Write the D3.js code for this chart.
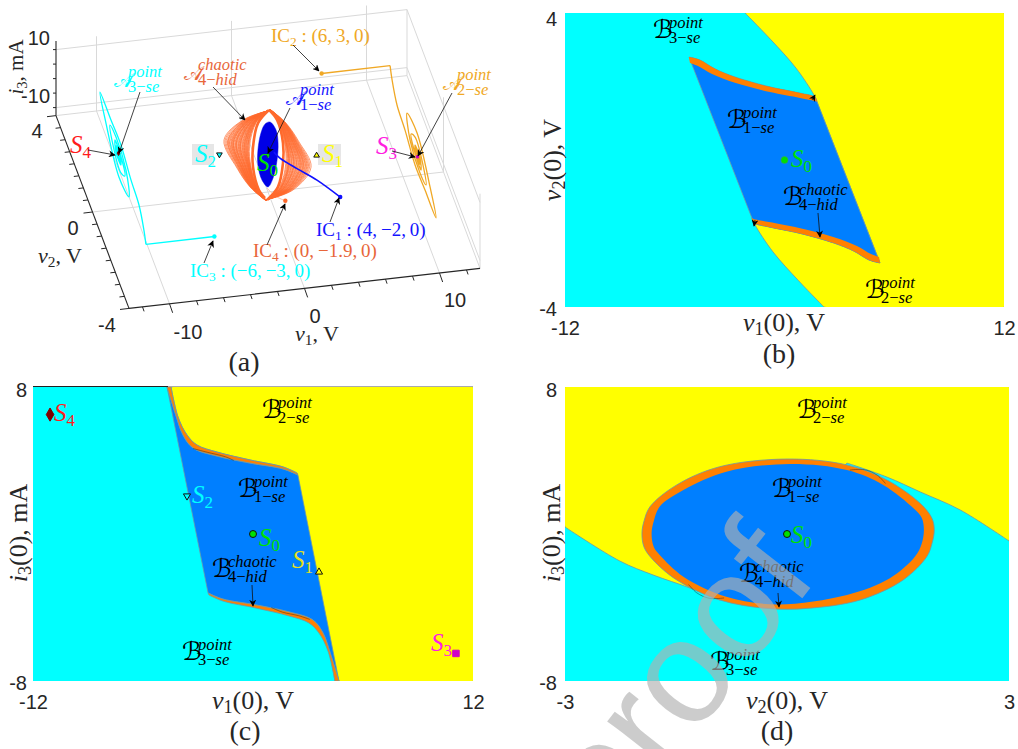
<!DOCTYPE html>
<html><head><meta charset="utf-8">
<script src="https://cdnjs.cloudflare.com/ajax/libs/d3/7.8.5/d3.min.js"></script>
<style>html,body{margin:0;padding:0;background:#fff}svg{display:block}</style>
</head><body><svg id="chart" width="1018" height="749"></svg>
<script>
/* ---------- panel (a): state-space values as [v1, v2, i3] ---------- */
const ticksV1=[-12,-10,-8,-6,-4,-2,0,2,4,6,8,10,12];
const ticksV2=[-4,-3.5,-3,-2.5,-2,-1.5,-1,-.5,0,.5,1,1.5,2,2.5,3,3.5,4];
const ticksI3=[-10,-5,0,5,10];
const equilibria={S0:[0,0,0],S1:[3.6,0,-2.07],S2:[-3.6,0,2.07],S3:[11.07,0,-6.5],S4:[-11.07,0,6.5]};
const trajIC1=[[4,-2,0],[3,-.93,-2.5],[1.7,-.66,-.1],[.6,-.42,2.1],[.3,-.2,2.5]];
const trajIC4=[[0,-1.9,0],[0,-.77,-7.7],[0,.11,-12.3]];
const trajIC2=[[6,3,0],[11.07,3,0],[11.07,2.78,-3.1],[11.07,2.24,-7.25],[11.07,1.36,-8.6],[11.07,.26,-11.5],[11.07,-.83,-11.05],[11.07,-2.04,-10.64],[11.07,-1.38,-5.43],[11.07,.04,1.36],[11.07,1.14,-.9],[11.07,.81,-7.43],[11.07,-.28,-9.74],[11.07,-.94,-8.4],[11.07,-.61,-4.26],[11.07,.26,-1.85],[11.07,.7,-4.47],[11.07,.37,-7.2],[11.07,-.39,-7.81],[11.07,-.28,-4.57],[11.07,.26,-4.6],[11.07,.15,-7.12],[11.07,-.28,-6.3],[11.07,-.07,-4.26],[11.07,.2,-5],[11.07,-.1,-7.8],[11.07,-.3,-6.5],[11.07,.1,-5],[11.07,.15,-7],[11.07,-.15,-7.2],[11.07,-.1,-5.5],[11.07,.1,-6],[11.07,0,-6.5]];
const trajIC3=[[-6,-3,0],[-11.07,-3,0],[-11.07,-2.78,3.1],[-11.07,-2.24,7.25],[-11.07,-1.36,8.6],[-11.07,-.26,11.5],[-11.07,.83,11.05],[-11.07,2.04,10.64],[-11.07,1.38,5.43],[-11.07,-.04,-1.36],[-11.07,-1.14,.9],[-11.07,-.81,7.43],[-11.07,.28,9.74],[-11.07,.94,8.4],[-11.07,.61,4.26],[-11.07,-.26,1.85],[-11.07,-.7,4.47],[-11.07,-.37,7.2],[-11.07,.39,7.81],[-11.07,.28,4.57],[-11.07,-.26,4.6],[-11.07,-.15,7.12],[-11.07,.28,6.3],[-11.07,.07,4.26],[-11.07,-.2,5],[-11.07,.1,7.8],[-11.07,.3,6.5],[-11.07,-.1,5],[-11.07,-.15,7],[-11.07,.15,7.2],[-11.07,.1,5.5],[-11.07,-.1,6],[-11.07,0,6.5]];
/* point attractor outline, [v2, i3] at v1 = 0 */
const attractorPoint=[[-.22,13.2],[-.88,15.9],[-1.1,13.3],[-.99,6.5],[-.55,-3.4],[0,-11],[.66,-14.1],[1.1,-12.6],[1.1,-7.4],[.77,1.2],[.33,7.9]];
/* chaotic attractor envelopes, [v1, i3] at v2 = 0 */
const chaoticLeftOuter=[[.22,15.4],[-1.85,13.05],[-3.26,6.9],[-2.3,-3.26],[-1.33,-10.3],[-.22,-15.4]];
const chaoticLeftInner=[[.07,15.5],[-.74,11.4],[-1.11,3.35],[-1.11,-3.55],[-.67,-11.7],[-.22,-14.7]];
const chaoticRightOuter=[[.22,15.4],[1.33,10.3],[2.3,3.26],[3.19,-5.83],[1.85,-13.05],[-.22,-15.4]];
const chaoticRightInner=[[.07,15.5],[.67,11.7],[1.11,3.55],[1.11,-3.35],[.74,-11.4],[-.07,-15.5]];
const chaoticStrandsLeft=[.12,.15,.17,.18,.2,.22,.24,.25,.27,.29,.3,.32,.34,.36,.38,.41,.43,.44,.46,.48,.5,.52,.55,.57,.58,.6,.62,.65,.67,.68,.7,.72,.74,.76,.79,.81,.84,.86,.88,.92,.96,1];
const chaoticStrandsRight=[.1,.13,.16,.18,.2,.21,.23,.25,.28,.3,.32,.35,.37,.39,.4,.43,.46,.48,.5,.53,.55,.58,.6,.62,.64,.66,.69,.71,.73,.75,.78,.8,.83,.85,.88,.91,.95,1];

/* ---------- panel (b): [v1(0), v2(0)] ---------- */
const bYellowUpper=[[-2.16,4],[-.74,3.27],[.63,2.5],[1.61,1.77],[1.78,1.58]];
const bYellowLower=[[-1.78,-1.58],[-1.61,-1.77],[-.63,-2.5],[.74,-3.27],[2.16,-4]];
const bBandUpperOuter=[[-5.22,2.8],[-4.62,2.72],[-3.8,2.48],[-2.71,2.26],[-.8,1.99],[.85,1.82],[1.67,1.71],[1.78,1.58]];
const bBandUpperInner=[[1.67,1.61],[.85,1.69],[-.8,1.85],[-2.71,2.1],[-3.96,2.34],[-4.73,2.56],[-5.17,2.64]];
const bBandLowerOuter=[[5.22,-2.8],[4.62,-2.72],[3.8,-2.48],[2.71,-2.26],[.8,-1.99],[-.85,-1.82],[-1.67,-1.71],[-1.78,-1.58]];
const bBandLowerInner=[[-1.67,-1.61],[-.85,-1.69],[.8,-1.85],[2.71,-2.1],[3.96,-2.34],[4.73,-2.56],[5.17,-2.64]];

/* ---------- panel (c): [v1(0), i3(0)] ---------- */
const cYellowUpper=[[-4.47,8],[-4.09,6.37],[-3.6,5.39],[-3.05,4.84],[-1.96,4.46],[-.16,4.03],[1.64,3.65],[2.4,3.32]];
const cBandUpperEdge=[[-4.69,8],[-4.25,6.59],[-3.82,5.39],[-3.27,4.68],[-1.96,4.24],[-.16,3.86],[1.64,3.54],[2.45,3.21]];
const cYellowLower=[[-2.4,-3.32],[-1.64,-3.65],[.16,-4.03],[1.96,-4.46],[3.05,-4.84],[3.6,-5.39],[4.09,-6.37],[4.47,-8]];
const cBandLowerEdge=[[-2.45,-3.21],[-1.64,-3.54],[.16,-3.86],[1.96,-4.24],[3.27,-4.68],[3.82,-5.39],[4.25,-6.59],[4.69,-8]];
const cFilamentUpper=[[-3.27,4.65],[-2.5,4.45],[-1.5,4.2],[-1.05,4.0]];
const cFilamentLower=[[1.0,-4.0],[1.6,-4.25],[2.5,-4.45],[3.1,-4.65]];

/* ---------- panel (d): [v2(0), i3(0)] ---------- */
const dOuter=[[-1.96,.04],[-1.93,.73],[-1.85,1.49],[-1.49,2.67],[-.91,3.66],[0,4.08],[.81,3.76],[1.35,2.94],[1.8,1.67],[1.96,.85],[1.99,.22],[1.96,-.51],[1.89,-1.23],[1.57,-2.5],[.99,-3.59],[.27,-4.05],[-.27,-4.05],[-.91,-3.59],[-1.49,-2.5],[-1.81,-1.41],[-1.93,-.73]];
const dInner=[[-1.83,.04],[-1.8,.71],[-1.72,1.49],[-1.4,2.39],[-.82,3.39],[.04,3.81],[.81,3.48],[1.3,2.67],[1.71,1.4],[1.82,.89],[1.85,.22],[1.82,-.53],[1.73,-1.23],[1.39,-2.41],[.81,-3.32],[-.14,-3.83],[-.82,-3.41],[-1.4,-2.32],[-1.72,-1.14],[-1.8,-.71]];
const dSepRight=[[3,-.38],[2.34,1.31],[1.8,2.29],[1.35,3.1],[.81,3.86]];
const dSepLeft=[[-.91,-3.59],[-1.31,-2.94],[-1.81,-2.23],[-2.26,-1.47],[-3,.38]];
const dFilamentUpper=[[.85,3.48],[1.05,3.5],[1.22,3.2],[1.33,2.75]];
const dFilamentLower=[[-1.33,-2.75],[-1.22,-3.2],[-1.05,-3.5],[-.85,-3.48]];

const COL={cyan:"#00ffff",yellow:"#ffff00",blue:"#007fff",orange:"#ff8000",edge:"#6d97a8",ink:"#262626",grid:"#d9d9d9",
 strand:"#ff6a2c",ic1:"#1414ff",ic2:"#f0a825",ic4:"#e8663a",s3:"#ff20e0",s4:"#ff1c1c",s0:"#00e000",s1:"#e6e020"};
const SANS="'Liberation Sans',Arial,sans-serif", SERIF="'Liberation Serif','DejaVu Serif',serif";
const SCRIPT="'DejaVu Serif','DejaVu Sans',serif";

const svg=d3.select("#chart");
const defs=svg.append("defs");
defs.append("marker").attr("id","head").attr("viewBox","0 0 10 10").attr("refX",9).attr("refY",5)
  .attr("markerWidth",7).attr("markerHeight",7).attr("markerUnits","userSpaceOnUse").attr("orient","auto")
  .append("path").attr("d","M0,0L10,5L0,10L3,5Z").attr("fill","black");

/* --- text helpers --- */
function mathLabel(g,x,y,base,sup,sub,color,opt={}){
 const size=opt.size||25,ss=opt.ss||16.5,off=opt.off||15;
 g.append("text").attr("x",x-1).attr("y",y).attr("fill",color).attr("font-family",SCRIPT).attr("font-size",size).text(base);
 g.append("text").attr("x",x+off).attr("y",y-10).attr("fill",color).attr("font-family",SERIF).attr("font-style","italic").attr("font-size",ss).text(sup);
 const t=g.append("text").attr("x",x+off).attr("y",y+5).attr("fill",color).attr("font-family",SERIF).attr("font-size",ss);
 t.append("tspan").text(sub[0]);
 t.append("tspan").text("\u2212");
 t.append("tspan").attr("font-style","italic").text(sub[1]);
}
function stateLabel(g,x,y,name,idx,color){
 const t=g.append("text").attr("x",x).attr("y",y).attr("fill",color).attr("font-family",SERIF).attr("font-size",25);
 t.append("tspan").attr("font-style","italic").text(name);
 t.append("tspan").attr("dy",5).attr("font-size",17).text(idx);
}
function icLabel(g,x,y,idx,rest,color){
 const t=g.append("text").attr("x",x).attr("y",y).attr("fill",color).attr("font-family",SERIF).attr("font-size",19);
 t.append("tspan").text("IC");
 t.append("tspan").attr("dy",4).attr("font-size",13.5).text(idx);
 t.append("tspan").attr("dy",-4).text(" : "+rest);
}
function axisTitle(g,x,y,v,idx,rest,rot,size=26){
 const t=g.append("text").attr("text-anchor","middle").attr("font-family",SERIF).attr("font-size",size).attr("fill",COL.ink)
  .attr("transform",`translate(${x},${y})`+(rot?" rotate(-90)":""));
 t.append("tspan").attr("font-style","italic").text(v);
 t.append("tspan").attr("dy",4).attr("font-size",size*.7).text(idx);
 t.append("tspan").attr("dy",-4).text(rest);
}
function tag(g,x,y,s){g.append("text").attr("x",x).attr("y",y).attr("text-anchor","middle").attr("font-family",SERIF).attr("font-size",28).attr("fill",COL.ink).text(s);}
function arrow(g,x1,y1,x2,y2){g.append("line").attr("x1",x1).attr("y1",y1).attr("x2",x2).attr("y2",y2).attr("stroke","#111").attr("stroke-width",.8).attr("marker-end","url(#head)");}

/* --- panel (a) : oblique projection built from linear scales --- */
const v1X=d3.scaleLinear([-13,13],[92.5,443.5]), v1Y=d3.scaleLinear([-13,13],[20,-20]);
const v2X=d3.scaleLinear([-4,4],[36.5,-36.5]), v2Y=d3.scaleLinear([-4,4],[96.4,-96.4]);
const i3Y=d3.scaleLinear([-10,10],[29,-29]);
const ORIGIN_Y=155;
const proj=([a,b,c])=>[v1X(a)+v2X(b),ORIGIN_Y+v1Y(a)+v2Y(b)+i3Y(c)];
const V1MIN=-13,V1MAX=13,V2MIN=-4,V2MAX=4,ZMIN=-12.76,ZMAX=13;

const A=svg.append("g").attr("id","panel-a");
const seg=(p,q,col,w)=>{const[a,b]=[proj(p),proj(q)];A.append("line").attr("x1",a[0]).attr("y1",a[1]).attr("x2",b[0]).attr("y2",b[1]).attr("stroke",col).attr("stroke-width",w);};
const gridW=1;
ticksI3.filter(z=>Math.abs(z)===10).forEach(z=>{
 seg([V1MIN,V2MAX,z],[V1MAX,V2MAX,z],COL.grid,gridW);
 seg([V1MAX,V2MAX,z],[V1MAX,V2MIN,z],COL.grid,gridW);
});
[-10,0,10].forEach(x=>{
 seg([x,V2MAX,ZMIN],[x,V2MAX,ZMAX],COL.grid,gridW);
 seg([x,V2MAX,ZMIN],[x,V2MIN,ZMIN],COL.grid,gridW);
});
seg([V1MIN,0,ZMIN],[V1MAX,0,ZMIN],COL.grid,gridW);
seg([V1MIN,V2MAX,ZMIN],[V1MAX,V2MAX,ZMIN],COL.grid,gridW);
seg([V1MAX,V2MAX,ZMIN],[V1MAX,V2MIN,ZMIN],COL.grid,gridW);
seg([V1MAX,0,ZMIN],[V1MAX,0,ZMAX],COL.grid,gridW);
seg([V1MAX,V2MAX,ZMIN],[V1MAX,V2MAX,10],COL.grid,gridW);
seg([V1MAX,V2MIN,ZMIN],[V1MAX,V2MIN,ZMAX],COL.grid,gridW);
seg([V1MIN,V2MIN,ZMIN],[V1MAX,V2MIN,ZMIN],COL.ink,1.1);
seg([V1MIN,V2MIN,ZMIN],[V1MIN,V2MAX,ZMIN],COL.ink,1.1);
seg([V1MIN,V2MAX,ZMIN],[V1MIN,V2MAX,ZMAX],COL.ink,1.1);
ticksV1.forEach(x=>{const p=proj([x,V2MIN,ZMIN]),L=x%10===0?9:4.5;
 A.append("line").attr("x1",p[0]).attr("y1",p[1]).attr("x2",p[0]+L*.35).attr("y2",p[1]+L).attr("stroke",COL.ink).attr("stroke-width",1);});
ticksV2.forEach(y=>{const p=proj([V1MIN,y,ZMIN]),L=y%4===0?9:5;
 A.append("line").attr("x1",p[0]).attr("y1",p[1]).attr("x2",p[0]-L).attr("y2",p[1]+L*.12).attr("stroke",COL.ink).attr("stroke-width",1);});
ticksI3.forEach(z=>{const p=proj([V1MIN,V2MAX,z]);
 A.append("line").attr("x1",p[0]).attr("y1",p[1]).attr("x2",p[0]-3).attr("y2",p[1]).attr("stroke",COL.ink).attr("stroke-width",1);});
const tickText=(g,x,y,s,anchor="middle")=>g.append("text").attr("x",x).attr("y",y).attr("text-anchor",anchor).attr("dominant-baseline","central").attr("font-family",SANS).attr("font-size",20).attr("fill",COL.ink).text(s);
tickText(A,50,38,"10","end");tickText(A,50,96,"-10","end");
tickText(A,37,131,"4");tickText(A,73,228,"0");tickText(A,107,325,"-4");
tickText(A,188,332,"-10");tickText(A,315,316,"0");tickText(A,455,300,"10");
axisTitle(A,60,263,"v","2",", V",false,22);
axisTitle(A,317,341,"v","1",", V",false,22);
axisTitle(A,23,67,"i","3",", mA",true,21);
tag(A,244,371,"(a)");

const straight=d3.line(d=>proj(d)[0],d=>proj(d)[1]);
const smooth3=d3.line(d=>proj(d)[0],d=>proj(d)[1]).curve(d3.curveCatmullRom.alpha(.5));
const drawTraj=(data,col,w,op=1)=>A.append("path").attr("d",smooth3(data)).attr("fill","none").attr("stroke",col).attr("stroke-width",w).attr("stroke-opacity",op);
const startDot=(p,col)=>{const q=proj(p);A.append("circle").attr("cx",q[0]).attr("cy",q[1]).attr("r",2.2).attr("fill",col);};

A.append("path").attr("d",straight(trajIC2.slice(0,2))).attr("fill","none").attr("stroke",COL.ic2).attr("stroke-width",1.4);
drawTraj(trajIC2.slice(1),COL.ic2,1.3);
A.append("path").attr("d",straight(trajIC3.slice(0,2))).attr("fill","none").attr("stroke",COL.cyan).attr("stroke-width",1.4);
drawTraj(trajIC3.slice(1),COL.cyan,1.3);
startDot(trajIC2[0],COL.ic2);startDot(trajIC3[0],COL.cyan);

drawTraj(trajIC4,"#ffb090",.8);
const chaoticLine=d3.line(d=>proj([d[0],0,d[1]])[0],d=>proj([d[0],0,d[1]])[1]).curve(d3.curveCatmullRom.alpha(.5));
function strands(inner,outer,levels){
 levels.forEach(l=>{
  const pts=inner.map((p,i)=>[p[0]+(outer[i][0]-p[0])*l,p[1]+(outer[i][1]-p[1])*l]);
  A.append("path").attr("d",chaoticLine(pts)).attr("fill","none").attr("stroke",COL.strand).attr("stroke-width",.8).attr("stroke-opacity",.85);
 });
 A.append("path").attr("d",chaoticLine(inner)).attr("fill","none").attr("stroke",COL.strand).attr("stroke-width",2.6);
}
strands(chaoticLeftInner,chaoticLeftOuter,chaoticStrandsLeft);
strands(chaoticRightInner,chaoticRightOuter,chaoticStrandsRight);
startDot(trajIC4[0],COL.strand);

const ptLine=d3.line(d=>proj([0,d[0],d[1]])[0],d=>proj([0,d[0],d[1]])[1]).curve(d3.curveCatmullRomClosed.alpha(.5));
A.append("path").attr("d",ptLine(attractorPoint)).attr("fill","#0000e6").attr("stroke","#0000e6").attr("stroke-width",.5);
drawTraj(trajIC1,"#1010ff",1.6);
startDot(trajIC1[0],"#1010ff");

const sym=(t,s)=>d3.symbol().type(t).size(s)();
const placeSym=(g,p,t,s,fill,stroke,rot=0)=>g.append("path").attr("d",sym(t,s)).attr("transform",`translate(${p[0]},${p[1]}) rotate(${rot})`).attr("fill",fill).attr("stroke",stroke).attr("stroke-width",1);
A.append("rect").attr("x",192).attr("y",144).attr("width",22).attr("height",21).attr("fill","#e6e6e6");
A.append("rect").attr("x",318).attr("y",144).attr("width",23).attr("height",21).attr("fill","#e6e6e6");
placeSym(A,proj(equilibria.S2),d3.symbolTriangle,14,COL.cyan,"#111",180);
placeSym(A,proj(equilibria.S1),d3.symbolTriangle,14,COL.yellow,"#111");
const s0a=proj(equilibria.S0);
A.append("circle").attr("cx",s0a[0]).attr("cy",s0a[1]).attr("r",1.5).attr("fill",COL.s0).attr("stroke","#111").attr("stroke-width",.5);
placeSym(A,proj(equilibria.S3),d3.symbolSquare,5,"#d000c8","#d000c8");
placeSym(A,proj(equilibria.S4),d3.symbolDiamond,6,"#800000","#800000");

stateLabel(A,195,162,"S","2",COL.cyan);
stateLabel(A,322,162,"S","1",COL.yellow);
stateLabel(A,257,171,"S","0",COL.s0);
stateLabel(A,70,153,"S","4",COL.s4);
stateLabel(A,376,154,"S","3",COL.s3);
const scriptA={size:20,off:13};
mathLabel(A,115,87,"\uD835\uDC9C","point",["3","se"],COL.cyan,scriptA);
mathLabel(A,185,80,"\uD835\uDC9C","chaotic",["4","hid"],COL.ic4,scriptA);
mathLabel(A,287,105,"\uD835\uDC9C","point",["1","se"],COL.ic1,scriptA);
mathLabel(A,444,90,"\uD835\uDC9C","point",["2","se"],COL.ic2,scriptA);
icLabel(A,271,42,"2","(6,\u20093,\u20090)",COL.ic2);
icLabel(A,316,236,"1","(4,\u2009\u22122,\u20090)",COL.ic1);
icLabel(A,253,257,"4","(0,\u2009\u22121.9,\u20090)",COL.ic4);
icLabel(A,190,277,"3","(\u22126,\u2009\u22123,\u20090)",COL.cyan);
arrow(A,88,150,115,155);arrow(A,140,92,119,153);arrow(A,213,87,245,120);arrow(A,290,108,268,153);
arrow(A,293,45,319,71);arrow(A,452,93,418,156);arrow(A,392,151,415,157);
arrow(A,330,222,339,198);arrow(A,267,245,285,204);arrow(A,204,263,213,241);

/* --- basin panels --- */
function basinFrame(id,xR,yR,xD,yD){
 const g=svg.append("g").attr("id",id);
 const x=d3.scaleLinear(xD,xR),y=d3.scaleLinear(yD,yR);
 defs.append("clipPath").attr("id","clip-"+id).append("rect").attr("x",xR[0]).attr("y",yR[0]).attr("width",xR[1]-xR[0]).attr("height",yR[1]-yR[0]);
 const plot=g.append("g").attr("clip-path",`url(#clip-${id})`);
 plot.append("rect").attr("x",xR[0]).attr("y",yR[0]).attr("width",xR[1]-xR[0]).attr("height",yR[1]-yR[0]).attr("fill",COL.cyan);
 const curve=d3.line(d=>x(d[0]),d=>y(d[1])).curve(d3.curveCatmullRom.alpha(.5));
 const stright=d3.line(d=>x(d[0]),d=>y(d[1]));
 const poly=(segs,fill,stroke)=>{
  const d=segs.map((s,i)=>{const p=(s.length>2?curve:stright)(s);return i?("L"+p.slice(1)):p;}).join("")+"Z";
  plot.append("path").attr("d",d).attr("fill",fill).attr("stroke",stroke||"none").attr("stroke-width",.8);
 };
 return {g,plot,x,y,poly,curve};
}
function axes(f,xTicks,yTicks,xPad,yPad,bottomY,leftX,yShift){
 const ax=f.g.append("g").attr("transform",`translate(0,${bottomY})`).call(d3.axisBottom(f.x).tickValues(xTicks).tickSize(0).tickPadding(xPad).tickFormat(String));
 const ay=f.g.append("g").attr("transform",`translate(${leftX},0)`).call(d3.axisLeft(f.y).tickValues(yTicks).tickSize(0).tickPadding(yPad).tickFormat(String));
 [ax,ay].forEach(a=>{a.select(".domain").remove();a.selectAll("text").attr("font-family",SANS).attr("font-size",20).attr("fill",COL.ink);});
 ay.selectAll("g.tick").each(function(d){d3.select(this).select("text").attr("transform",`translate(0,${d>0?yShift[0]:yShift[1]})`);});
}
const filament=(f,data)=>f.plot.append("path").attr("d",f.curve(data)).attr("fill","none").attr("stroke","#222").attr("stroke-width",.6).attr("stroke-opacity",.75);
const rev=a=>a.slice().reverse();

/* (b) */
const B=basinFrame("panel-b",[565,1004],[13,307],[-12,12],[4,-4]);
B.poly([bYellowUpper,[[1.78,1.58],[5.22,-2.8]],bBandLowerOuter,bYellowLower,[[2.16,-4],[12,-4],[12,4],[-2.16,4]]],COL.yellow,COL.edge);
B.poly([bBandUpperOuter,[[1.78,1.58],[5.22,-2.8]],bBandLowerOuter,[[-1.78,-1.58],[-5.22,2.8]]],COL.blue,COL.edge);
B.poly([bBandUpperOuter,bBandUpperInner],COL.orange);
B.poly([bBandLowerOuter,bBandLowerInner],COL.orange);
axes(B,[-12,12],[-4,4],14,8,307,565,[6,2]);
const s0b=[B.x(0),B.y(0)];
B.g.append("circle").attr("cx",s0b[0]).attr("cy",s0b[1]).attr("r",3.5).attr("fill",COL.s0).attr("stroke","#3a9a6a").attr("stroke-width",.6);
stateLabel(B.g,791,167,"S","0",COL.s0);
mathLabel(B.g,654,38,"\u212C","point",["3","se"],"#000");
mathLabel(B.g,728,128,"\u212C","point",["1","se"],"#000");
mathLabel(B.g,784,205,"\u212C","chaotic",["4","hid"],"#000");
mathLabel(B.g,866,298,"\u212C","point",["2","se"],"#000");
arrow(B.g,818,213,820,237);arrow(B.g,812,100,815,95);arrow(B.g,755,220,754,226);
axisTitle(B.g,784,331,"v","1","(0), V",false);
axisTitle(B.g,561,160,"v","2","(0), V",true);
tag(B.g,779,363,"(b)");

/* (c) */
const C=basinFrame("panel-c",[33,473],[387,681],[-12,12],[8,-8]);
C.poly([cYellowUpper,[[2.4,3.32],[4.47,-8]],[[4.47,-8],[12,-8],[12,8],[-4.47,8]]],COL.yellow,COL.edge);
C.poly([cBandUpperEdge,[[2.45,3.21],[4.69,-8]],rev(cBandLowerEdge),[[-2.45,-3.21],[-4.69,8]]],COL.blue,COL.edge);
C.poly([cYellowUpper,rev(cBandUpperEdge)],COL.orange,COL.edge);
C.poly([cBandLowerEdge,rev(cYellowLower)],COL.orange,COL.edge);
filament(C,cFilamentUpper);filament(C,cFilamentLower);
C.g.append("line").attr("x1",33).attr("x2",168).attr("y1",386.5).attr("y2",386.5).attr("stroke","#222").attr("stroke-width",1);
C.g.append("line").attr("x1",168).attr("x2",473).attr("y1",386.5).attr("y2",386.5).attr("stroke","#aaa").attr("stroke-width",1);
axes(C,[-12,12],[-8,8],14,6,681,33,[3,2]);
const cPt=p=>[C.x(p[0]),C.y(p[2])];
placeSym(C.g,cPt(equilibria.S1),d3.symbolTriangle,22,COL.yellow,"#111");
placeSym(C.g,cPt(equilibria.S2),d3.symbolTriangle,22,COL.cyan,"#111",180);
placeSym(C.g,cPt(equilibria.S3),d3.symbolSquare,42,"#d000c8","#d000c8");
placeSym(C.g,cPt(equilibria.S4),d3.symbolDiamond,50,"#800000","#800000");
const s0c=cPt(equilibria.S0);
C.g.append("circle").attr("cx",s0c[0]).attr("cy",s0c[1]).attr("r",3.5).attr("fill",COL.s0).attr("stroke","#111").attr("stroke-width",1);
stateLabel(C.g,259,546,"S","0",COL.s0);
stateLabel(C.g,292,568,"S","1",COL.s1);
stateLabel(C.g,192,503,"S","2",COL.cyan);
stateLabel(C.g,431,651,"S","3",COL.s3);
stateLabel(C.g,54,421,"S","4",COL.s4);
mathLabel(C.g,263,418,"\u212C","point",["2","se"],"#000");
mathLabel(C.g,239,497,"\u212C","point",["1","se"],"#000");
mathLabel(C.g,213,577,"\u212C","chaotic",["4","hid"],"#000");
mathLabel(C.g,183,660,"\u212C","point",["3","se"],"#000");
arrow(C.g,252,585,253,606);
axisTitle(C.g,253,709,"v","1","(0), V",false);
axisTitle(C.g,27,533,"i","3","(0), mA",true);
tag(C.g,245,740,"(c)");

/* (d) */
const D=basinFrame("panel-d",[565,1009],[387,681],[-3,3],[8,-8]);
D.poly([dSepRight,[[.81,3.86],[-.91,-3.59]],dSepLeft,[[-3,.38],[-3,8],[3,8],[3,-.38]]],COL.yellow,COL.edge);
const closed=d3.line(d=>D.x(d[0]),d=>D.y(d[1])).curve(d3.curveCatmullRomClosed.alpha(.5));
D.plot.append("path").attr("d",closed(dOuter)).attr("fill",COL.orange).attr("stroke",COL.edge).attr("stroke-width",.8);
D.plot.append("path").attr("d",closed(dInner)).attr("fill",COL.blue);
filament(D,dFilamentUpper);filament(D,dFilamentLower);
axes(D,[-3,3],[-8,8],14,8,681,565,[3,2]);
D.g.append("circle").attr("cx",D.x(0)).attr("cy",D.y(0)).attr("r",3.5).attr("fill",COL.s0).attr("stroke","#111").attr("stroke-width",1);
stateLabel(D.g,791,543,"S","0",COL.s0);
mathLabel(D.g,798,418,"\u212C","point",["2","se"],"#000");
mathLabel(D.g,773,497,"\u212C","point",["1","se"],"#000");
mathLabel(D.g,740,582,"\u212C","chaotic",["4","hid"],"#000");
mathLabel(D.g,711,670,"\u212C","point",["3","se"],"#000");
arrow(D.g,778,593,779,607);
axisTitle(D.g,787,709,"v","2","(0), V",false);
axisTitle(D.g,560,533,"i","3","(0), mA",true);
tag(D.g,777,740,"(d)");

/* watermark */
svg.append("text").attr("id","watermark").text("proof").attr("font-family",SANS).attr("font-size",148)
 .attr("transform","translate(612,842) rotate(-52)").attr("fill","rgb(177,177,177)").attr("fill-opacity",.65);
</script></body></html>
